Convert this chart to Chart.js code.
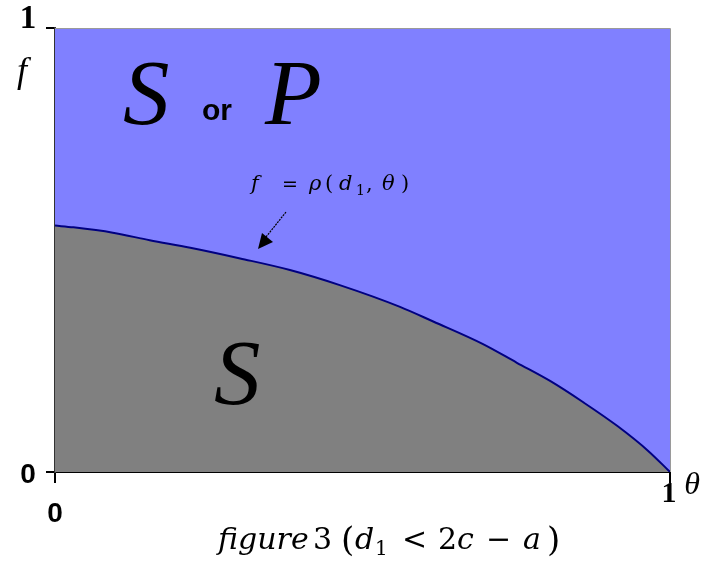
<!DOCTYPE html>
<html><head><meta charset="utf-8">
<script src="https://cdn.jsdelivr.net/npm/chart.js@4/dist/chart.umd.min.js"></script>
<style>html,body{margin:0;padding:0;background:#fff}#w{width:701px;height:569px}</style>
</head><body><div id="w"><canvas id="c" width="701" height="569"></canvas></div>
<script>
// data
const thetaValues = [0,0.03,0.094,0.154,0.22,0.301,0.382,0.463,0.561,0.615,0.696,0.751,0.805,0.859,0.914,0.965,1];
const fValues     = [0.555,0.551,0.539,0.522,0.505,0.481,0.455,0.421,0.372,0.339,0.288,0.246,0.205,0.157,0.104,0.047,0];
const xTickValues = [0,1];
const yTickValues = [0,1];
const xTickLabels = ['0','1'];
const yTickLabels = ['0','1'];

const pts = thetaValues.map((t,i)=>({x:t,y:fValues[i]}));

const SERIF = '"Liberation Serif","Times New Roman",serif';
const DSERIF = '"DejaVu Serif",serif';
const SANS = '"Liberation Sans Narrow","Liberation Sans",Arial,sans-serif';

function place(ctx, baseY, parts){
  for (const p of parts){
    ctx.font = p.font;
    ctx.fillText(p.t, p.x, baseY + (p.dy||0));
  }
}

const deco = {
  id:'deco',
  beforeDatasetsDraw(chart){
    const {ctx, chartArea:a} = chart;
    ctx.save();
    ctx.fillStyle = '#8080FF';
    ctx.fillRect(a.left, a.top, a.right-a.left, a.bottom-a.top);
    ctx.restore();
  },
  afterDraw(chart){
    const {ctx, chartArea:a, scales:{x, y}} = chart;
    ctx.save();
    ctx.strokeStyle = '#9a9a9a'; ctx.lineWidth = 1;
    ctx.beginPath(); ctx.moveTo(a.left, a.top+0.5); ctx.lineTo(a.right+0.5, a.top+0.5); ctx.lineTo(a.right+0.5, a.bottom); ctx.stroke();
    ctx.fillStyle = '#000';
    ctx.textBaseline = 'alphabetic';
    // y tick labels
    yTickValues.forEach((v,i)=>{
      const py = y.getPixelForValue(v);
      ctx.textAlign='center';
      if (v === 1){ ctx.font = 'bold 33px '+SERIF; ctx.fillText(yTickLabels[i], 28, py); }
      else { ctx.font = 'bold 28px '+SANS; ctx.fillText(yTickLabels[i], 28, py+11); }
    });
    // x tick labels
    xTickValues.forEach((v,i)=>{
      const px = x.getPixelForValue(v);
      ctx.textAlign='center';
      if (v === 1){ ctx.font = 'bold 30px '+SERIF; ctx.fillText(xTickLabels[i], px-1, 502); }
      else { ctx.font = 'bold 28px '+SANS; ctx.fillText(xTickLabels[i], px, 522); }
    });
    // axis names
    ctx.textAlign='center';
    ctx.font = 'italic 36px '+SERIF;
    ctx.fillText('f', 22, 82);
    ctx.font = 'italic 32px '+SERIF;
    ctx.fillText('θ', 692, 494);
    // region labels
    ctx.textAlign='left';
    ctx.font = 'italic 93px '+SERIF;
    ctx.fillText('S', 123, 124);
    ctx.fillText('P', 265, 124);
    ctx.fillText('S', 214, 404);
    ctx.font = 'bold 30px '+SANS;
    ctx.fillText('or', 202, 120);
    // annotation
    const AI = 'italic 21px '+DSERIF, AR = '21px '+DSERIF;
    place(ctx, 190, [
      {t:'f', x:251, font:AI},
      {t:'=', x:282, font:'19px "DejaVu Sans",sans-serif'},
      {t:'ρ', x:309, font:AI},
      {t:'(', x:325, font:AR},
      {t:'d', x:339, font:AI},
      {t:'1', x:356, font:'14px '+DSERIF, dy:5},
      {t:',', x:366, font:AR},
      {t:'θ', x:382, font:AI},
      {t:')', x:401, font:AR}
    ]);
    // arrow
    ctx.strokeStyle='#000'; ctx.lineWidth=1.2; ctx.setLineDash([2,1]);
    ctx.beginPath(); ctx.moveTo(286,212); ctx.lineTo(266,237); ctx.stroke();
    ctx.setLineDash([]);
    ctx.beginPath(); ctx.moveTo(258,249); ctx.lineTo(262,233); ctx.lineTo(273,242); ctx.closePath(); ctx.fill();
    // caption
    const CI = 'italic 30px '+DSERIF, CR = '30px '+DSERIF;
    place(ctx, 549, [
      {t:'figure', x:218, font:CI},
      {t:'3', x:313, font:CR},
      {t:'(', x:341, font:'34px '+DSERIF, dy:2},
      {t:'d', x:355, font:CI},
      {t:'1', x:375, font:'20px '+DSERIF, dy:6},
      {t:'<', x:402, font:CR},
      {t:'2', x:438, font:CR},
      {t:'c', x:457, font:CI},
      {t:'−', x:486, font:CR},
      {t:'a', x:523, font:CI},
      {t:')', x:547, font:'34px '+DSERIF, dy:2}
    ]);
    ctx.restore();
  }
};

new Chart(document.getElementById('c'), {
  type:'line',
  data:{ datasets:[
    { data: pts, fill:'origin', backgroundColor:'#808080', borderColor:'#000080', borderWidth:2,
      pointRadius:0, cubicInterpolationMode:'monotone' }
  ]},
  options:{
    responsive:false, animation:false, devicePixelRatio:1,
    layout:{ padding:{ top:28, right:31, left:0, bottom:0 } },
    plugins:{ legend:{display:false}, tooltip:{enabled:false} },
    scales:{
      x:{ type:'linear', min:0, max:1,
        afterBuildTicks(s){ s.ticks = xTickValues.map(v=>({value:v})); },
        afterFit(s){ s.height = 97; },
        ticks:{ display:false },
        grid:{ drawOnChartArea:false, drawTicks:true, tickLength:11, color:'#000', lineWidth:2 },
        border:{ display:true, color:'#000', width:2 }
      },
      y:{ type:'linear', min:0, max:1,
        afterBuildTicks(s){ s.ticks = yTickValues.map(v=>({value:v})); },
        afterFit(s){ s.width = 55; },
        ticks:{ display:false },
        grid:{ drawOnChartArea:false, drawTicks:true, tickLength:9, color:'#000', lineWidth:2 },
        border:{ display:true, color:'#333', width:2 }
      }
    }
  },
  plugins:[deco]
});
</script></body></html>
